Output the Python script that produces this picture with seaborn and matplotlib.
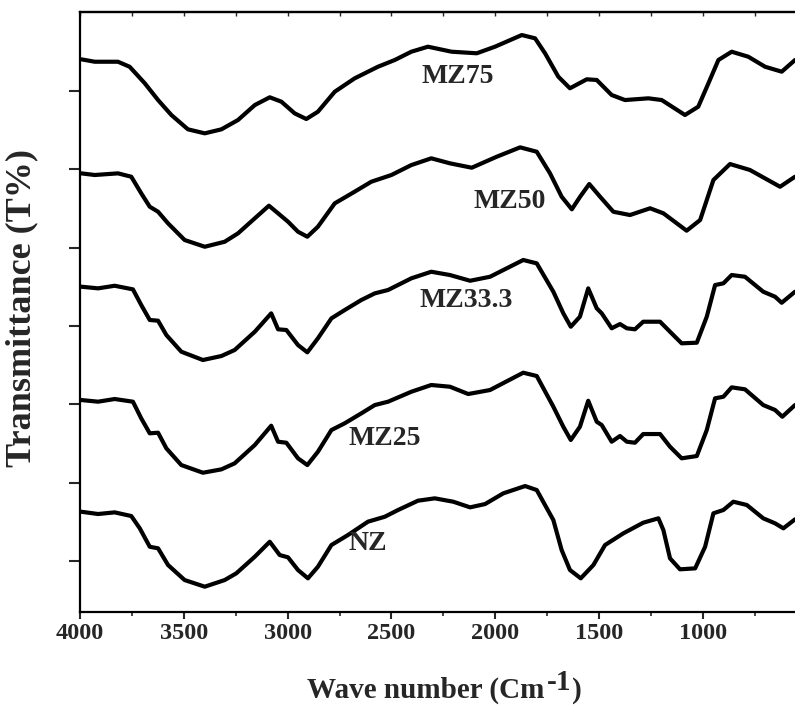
import numpy as np
import pandas as pd
import matplotlib
matplotlib.use("Agg")
import matplotlib.pyplot as plt
import seaborn as sns

# ---- data (wavenumber in cm^-1, transmittance a.u.) ----
mz75_wn = [3994, 3929, 3817, 3761, 3688, 3624, 3560, 3480, 3399, 3319, 3239, 3158, 3086, 3030,
           2966, 2910, 2854, 2773, 2677, 2565, 2484, 2404, 2324, 2210, 2089, 2001, 1872, 1808,
           1760, 1696, 1640, 1559, 1511, 1439, 1375, 1262, 1198, 1086, 1022, 973, 925, 861,
           781, 700, 620, 556]
mz75_t = [74.05, 73.74, 73.74, 73.1, 70.99, 68.85, 66.94, 65.11, 64.6, 65.11, 66.3, 68.21, 69.2,
          68.64, 67.15, 66.43, 67.36, 69.91, 71.62, 73.1, 73.96, 75.02, 75.66, 75.02, 74.82, 75.66,
          77.15, 76.73, 74.82, 71.83, 70.35, 71.5, 71.41, 69.49, 68.85, 69.07, 68.85, 66.94, 68.0,
          70.99, 73.96, 75.02, 74.38, 73.1, 72.47, 73.96]

mz50_wn = [3994, 3929, 3817, 3753, 3705, 3664, 3624, 3576, 3496, 3399, 3303, 3239, 3158, 3090,
           3046, 2998, 2950, 2905, 2854, 2773, 2677, 2597, 2500, 2404, 2308, 2218, 2113, 1993,
           1880, 1800, 1736, 1680, 1631, 1591, 1547, 1495, 1431, 1351, 1254, 1190, 1078, 1013,
           949, 869, 773, 628, 556]
mz50_t = [59.49, 59.28, 59.49, 59.06, 56.94, 55.23, 54.59, 53.11, 50.98, 50.12, 50.76, 51.83,
          53.75, 55.36, 54.39, 53.32, 52.04, 51.4, 52.68, 55.66, 57.15, 58.42, 59.28, 60.55, 61.41,
          60.77, 60.21, 61.61, 62.81, 62.25, 59.49, 56.51, 54.9, 56.51, 58.13, 56.51, 54.59, 54.17,
          55.03, 54.39, 52.17, 53.53, 58.64, 60.68, 59.92, 57.78, 59.06]

mz33_wn = [3994, 3913, 3833, 3745, 3705, 3664, 3624, 3584, 3512, 3408, 3319, 3255, 3158, 3079,
           3046, 3006, 2950, 2905, 2854, 2789, 2725, 2645, 2580, 2516, 2404, 2308, 2218, 2121,
           2025, 1865, 1800, 1720, 1672, 1636, 1592, 1552, 1511, 1487, 1439, 1399, 1366, 1327,
           1287, 1206, 1158, 1102, 1029, 981, 941, 901, 861, 797, 709, 652, 620, 556]
mz33_t = [45.02, 44.81, 45.14, 44.68, 42.68, 40.77, 40.68, 38.85, 36.72, 35.66, 36.17, 36.94,
          39.27, 41.62, 39.58, 39.49, 37.57, 36.64, 38.43, 40.98, 42.04, 43.32, 44.17, 44.6, 46.09,
          46.93, 46.51, 45.78, 46.29, 48.43, 48.0, 44.38, 41.62, 39.91, 41.19, 44.81, 42.26, 41.62,
          39.71, 40.25, 39.71, 39.58, 40.55, 40.55, 39.27, 37.79, 37.87, 41.19, 45.23, 45.45, 46.51,
          46.29, 44.38, 43.74, 42.97, 44.38]

mz25_wn = [3994, 3913, 3833, 3745, 3705, 3664, 3624, 3584, 3512, 3408, 3319, 3255, 3158, 3079,
           3046, 3006, 2950, 2905, 2854, 2789, 2725, 2645, 2580, 2516, 2404, 2308, 2218, 2130,
           2025, 1865, 1800, 1720, 1672, 1636, 1592, 1552, 1511, 1487, 1439, 1399, 1366, 1327,
           1287, 1206, 1158, 1102, 1029, 981, 941, 901, 861, 797, 709, 652, 617, 556]
mz25_t = [30.55, 30.34, 30.68, 30.34, 28.21, 26.3, 26.38, 24.38, 22.25, 21.27, 21.7, 22.47,
          24.81, 27.27, 25.23, 25.1, 23.11, 22.25, 23.95, 26.72, 27.58, 28.85, 29.91, 30.34, 31.61,
          32.47, 32.25, 31.32, 31.83, 34.04, 33.62, 29.7, 27.14, 25.45, 27.14, 30.46, 27.78, 27.36,
          25.23, 25.96, 25.23, 25.1, 26.21, 26.21, 24.59, 23.11, 23.4, 26.72, 30.77, 30.97, 32.17,
          31.92, 29.91, 29.28, 28.42, 29.91]

nz_wn = [3994, 3913, 3833, 3753, 3712, 3664, 3624, 3576, 3496, 3399, 3303, 3247, 3158, 3086,
         3038, 2998, 2950, 2902, 2854, 2789, 2709, 2613, 2532, 2468, 2372, 2291, 2202, 2121,
         2049, 1961, 1856, 1800, 1720, 1680, 1640, 1588, 1527, 1471, 1383, 1287, 1214, 1190,
         1158, 1110, 1037, 989, 949, 901, 853, 788, 709, 652, 612, 556]
nz_t = [16.29, 16.0, 16.21, 15.74, 14.17, 11.82, 11.62, 9.49, 7.57, 6.72, 7.57, 8.43, 10.55,
        12.46, 10.76, 10.47, 8.85, 7.79, 9.27, 12.04, 13.32, 15.02, 15.65, 16.51, 17.7, 18.0,
        17.57, 16.85, 17.27, 18.64, 19.57, 19.06, 15.23, 11.4, 8.85, 7.79, 9.49, 12.04, 13.53,
        14.89, 15.45, 13.95, 10.34, 8.94, 9.06, 11.82, 16.09, 16.51, 17.57, 17.15, 15.45, 14.81,
        14.17, 15.32]

samples = ["MZ75", "MZ50", "MZ33.3", "MZ25", "NZ"]
label_wn = [2357, 2107, 2367, 2709, 2709]
label_t = [71.0, 55.06, 42.42, 24.81, 11.4]

x_ticks = [4000, 3500, 3000, 2500, 2000, 1500, 1000]
x_minor = [3750, 3250, 2750, 2250, 1750, 1250, 750]
y_ticks = [10, 20, 30, 40, 50, 60, 70]

series = {
    "MZ75": (mz75_wn, mz75_t),
    "MZ50": (mz50_wn, mz50_t),
    "MZ33.3": (mz33_wn, mz33_t),
    "MZ25": (mz25_wn, mz25_t),
    "NZ": (nz_wn, nz_t),
}

frames = []
for name in samples:
    wn, t = series[name]
    frames.append(pd.DataFrame({"wn": wn, "T": t, "sample": name}))
df = pd.concat(frames, ignore_index=True)

# ---- style ----
sns.set_style("ticks")
plt.rcParams["font.family"] = ["Liberation Serif", "DejaVu Serif"]
plt.rcParams["font.weight"] = "bold"

W, H = 795, 706
fig = plt.figure(figsize=(W / 100, H / 100), dpi=100)
ax = fig.add_axes([80 / W, (H - 612) / H, (W - 80) / W, 600 / H])

sns.lineplot(data=df, x="wn", y="T", hue="sample", units="sample", estimator=None,
             palette={s: "black" for s in samples}, sort=False, legend=False,
             linewidth=3.0, ax=ax, solid_joinstyle="round", solid_capstyle="round")

for name, lx, ly in zip(samples, label_wn, label_t):
    ax.text(lx, ly, name, ha="left", va="baseline", fontsize=20, fontweight="bold")

ax.set_xlim(4000, 556)
ax.set_ylim(3.49, 80.09)
ax.set_xticks(x_ticks)
ax.set_xticklabels([str(v) for v in x_ticks], fontsize=17.5, fontweight="bold")
ax.set_xticks(x_minor, minor=True)
ax.set_yticks(y_ticks)
ax.set_yticklabels([])

ax.tick_params(axis="x", which="major", direction="out", length=5, width=1.5, pad=3)
ax.tick_params(axis="x", which="minor", direction="out", length=3, width=1.2)
ax.tick_params(axis="y", which="major", direction="out", length=8, width=1.5)

# top axis: small inward ticks, no labels
top = ax.secondary_xaxis("top")
top.set_xticks(x_ticks)
top.set_xticks(x_minor, minor=True)
top.set_xticklabels([])
top.tick_params(axis="x", which="both", direction="in", length=3, width=1.0)
top.spines["top"].set_linewidth(1.6)

for side in ["left", "bottom", "top"]:
    ax.spines[side].set_linewidth(1.6)
    ax.spines[side].set_color("black")
ax.spines["right"].set_visible(False)
ax.set_xlabel("")
ax.set_ylabel("Transmittance (T%)", fontsize=26, fontweight="bold")
ax.yaxis.set_label_coords(-0.058, 0.507)

# x-axis title built from pieces: "Wave number (Cm" + raised "-1" + ")"
fs = 21
base_y = (H - 698) / H
t1 = fig.text(307 / W, base_y, "Wave number (Cm", fontsize=fs, fontweight="bold",
              ha="left", va="baseline")
fig.canvas.draw()
r = fig.canvas.get_renderer()
x1 = t1.get_window_extent(r).x1
t2 = fig.text((x1 + 2) / W, (H - 690) / H, "-1", fontsize=fs, fontweight="bold",
              ha="left", va="baseline")
fig.canvas.draw()
x2 = t2.get_window_extent(r).x1
fig.text((x2 + 1) / W, base_y, ")", fontsize=fs, fontweight="bold", ha="left", va="baseline")

fig.savefig("out.png", dpi=100)
